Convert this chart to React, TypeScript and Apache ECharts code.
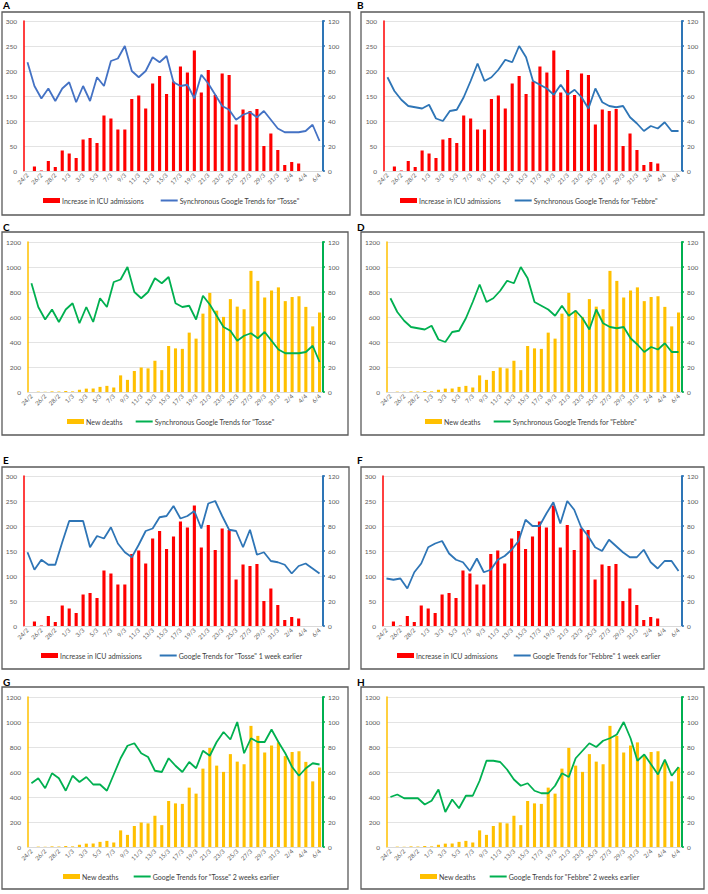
import React, { useEffect, useRef } from 'react';
import * as echarts from 'echarts';

const dates = [
  '24/2', '25/2', '26/2', '27/2', '28/2', '29/2',
  '1/3', '2/3', '3/3', '4/3', '5/3', '6/3', '7/3', '8/3', '9/3', '10/3',
  '11/3', '12/3', '13/3', '14/3', '15/3', '16/3', '17/3', '18/3', '19/3', '20/3',
  '21/3', '22/3', '23/3', '24/3', '25/3', '26/3', '27/3', '28/3', '29/3', '30/3', '31/3',
  '1/4', '2/4', '3/4', '4/4', '5/4', '6/4',
];

const icuIncrease = [
  0, 9, 1, 20, 8, 41, 35, 26, 63, 66, 56, 111, 105, 83, 83, 144, 151, 125, 175, 190, 154,
  179, 209, 197, 241, 157, 202, 152, 195, 192, 93, 123, 120, 124, 50, 75, 42, 12, 18, 15, 0, 0, 0,
];

const newDeaths = [
  0, 3, 2, 5, 4, 8, 5, 18, 27, 28, 41, 49, 36, 133, 97, 168, 196, 189, 250, 175, 368,
  349, 345, 475, 427, 627, 793, 651, 601, 743, 683, 662, 969, 889, 756, 812, 837, 727, 760, 766, 681, 525, 636,
];

const tosseSync = [
  87, 68, 58, 66, 56, 66, 71, 55, 68, 56, 75, 68, 88, 90, 100, 80, 75, 80, 91, 87, 92,
  71, 68, 69, 58, 77, 70, 61, 52, 49, 41, 45, 47, 43, 48, 41, 34, 31, 31, 31, 32, 37, 24,
];

const febbreSync = [
  75, 64, 57, 52, 51, 50, 53, 42, 40, 48, 49, 59, 72, 86, 72, 75, 81, 89, 87, 100, 91,
  72, 69, 66, 61, 69, 61, 65, 59, 50, 66, 55, 52, 51, 52, 43, 38, 32, 36, 34, 39, 32, 32,
];

const tosse1w = [
  59, 45, 53, 49, 49, 67, 84, 84, 84, 63, 72, 70, 79, 66, 59, 55, 65, 76, 78, 87, 88,
  96, 86, 88, 92, 78, 98, 100, 88, 77, 76, 63, 77, 57, 59, 52, 51, 49, 42, 48, 50, 46, 42,
];

const febbre1w = [
  38, 37, 38, 30, 43, 50, 63, 66, 68, 58, 53, 51, 44, 54, 43, 45, 53, 56, 61, 68, 85,
  80, 80, 90, 99, 82, 100, 93, 79, 72, 63, 60, 69, 64, 59, 55, 55, 61, 51, 46, 52, 52, 44,
];

const tosse2w = [
  51, 55, 47, 59, 55, 45, 57, 52, 56, 50, 50, 45, 58, 71, 81, 83, 75, 72, 61, 60, 71,
  65, 60, 68, 63, 77, 73, 84, 92, 86, 100, 75, 87, 84, 84, 94, 84, 75, 64, 57, 63, 67, 66,
];

const febbre2w = [
  40, 42, 39, 39, 39, 34, 37, 46, 28, 38, 31, 41, 41, 53, 69, 69, 68, 62, 54, 49, 51,
  45, 43, 43, 49, 59, 56, 71, 77, 83, 80, 85, 87, 90, 100, 87, 69, 74, 66, 58, 70, 57, 64,
];

const icuTicks = { max: 300, interval: 50 };
const deathTicks = { max: 1200, interval: 200 };
const trendTicks = { max: 120, interval: 20 };

const RED = '#FF0000';
const YELLOW = '#FFC000';
const GREEN = '#00B050';
const BLUE_A = '#4472C4';
const BLUE = '#2E75B6';
const FONT = 'Lato, "Noto Sans", sans-serif';
const TEXT = '#595959';
const LINE_ICON = 'path://M0,0H17V2H0Z';

const ICU_NAME = 'Increase in ICU admissions';
const DEATH_NAME = 'New deaths';

const panels = [
  { id: 'A', lab: [3, 0], frame: [2, 12, 348, 203], grid: [24, 21, 299], bars: icuIncrease, barName: ICU_NAME, barColor: RED, ticks: icuTicks, line: tosseSync, lineName: 'Synchronous Google Trends for "Tosse"', lineColor: BLUE_A, axisColor: BLUE, leg: [43, 197], gap: 17 },
  { id: 'B', lab: [357, 0], frame: [361, 12, 343, 203], grid: [384, 21, 298], bars: icuIncrease, barName: ICU_NAME, barColor: RED, ticks: icuTicks, line: febbreSync, lineName: 'Synchronous Google Trends for "Febbre"', lineColor: BLUE, axisColor: BLUE, leg: [400, 197], gap: 14 },
  { id: 'C', lab: [3, 222], frame: [2, 232, 346, 203], grid: [28, 242, 295], bars: newDeaths, barName: DEATH_NAME, barColor: YELLOW, ticks: deathTicks, line: tosseSync, lineName: 'Synchronous Google Trends for "Tosse"', lineColor: GREEN, axisColor: GREEN, leg: [67, 418], gap: 13 },
  { id: 'D', lab: [357, 222], frame: [361, 232, 343, 203], grid: [387, 242, 295], bars: newDeaths, barName: DEATH_NAME, barColor: YELLOW, ticks: deathTicks, line: febbreSync, lineName: 'Synchronous Google Trends for "Febbre"', lineColor: GREEN, axisColor: GREEN, leg: [425, 418], gap: 13 },
  { id: 'E', lab: [3, 455], frame: [2, 467, 347, 202], grid: [24, 476, 299], bars: icuIncrease, barName: ICU_NAME, barColor: RED, ticks: icuTicks, line: tosse1w, lineName: 'Google Trends for "Tosse" 1 week earlier', lineColor: BLUE, axisColor: BLUE, leg: [41, 652], gap: 18 },
  { id: 'F', lab: [357, 455], frame: [361, 467, 343, 202], grid: [383, 476, 299], bars: icuIncrease, barName: ICU_NAME, barColor: RED, ticks: icuTicks, line: febbre1w, lineName: 'Google Trends for "Febbre" 1 week earlier', lineColor: BLUE, axisColor: BLUE, leg: [397, 652], gap: 16 },
  { id: 'G', lab: [3, 677], frame: [2, 687, 346, 202], grid: [28, 697, 295], bars: newDeaths, barName: DEATH_NAME, barColor: YELLOW, ticks: deathTicks, line: tosse2w, lineName: 'Google Trends for "Tosse" 2 weeks earlier', lineColor: GREEN, axisColor: GREEN, leg: [63, 873], gap: 15 },
  { id: 'H', lab: [357, 677], frame: [361, 687, 343, 202], grid: [387, 697, 295], bars: newDeaths, barName: DEATH_NAME, barColor: YELLOW, ticks: deathTicks, line: febbre2w, lineName: 'Google Trends for "Febbre" 2 weeks earlier', lineColor: GREEN, axisColor: GREEN, leg: [420, 873], gap: 14 },
];

export default function App() {
  const ref = useRef<HTMLDivElement>(null);

  useEffect(() => {
    if (!ref.current) return;
    const chart = echarts.init(ref.current, undefined, { renderer: 'svg' });

    const grid: any[] = [];
    const xAxis: any[] = [];
    const yAxis: any[] = [];
    const series: any[] = [];
    const legend: any[] = [];
    const graphic: any[] = [];
    const plain = (v: number) => String(v);

    panels.forEach((p, i) => {
      grid.push({
        left: p.grid[0], top: p.grid[1], width: p.grid[2], height: 150,
        containLabel: false, outerBoundsMode: 'none',
      });
      xAxis.push({
        type: 'category', gridIndex: i, data: dates, boundaryGap: true,
        axisLine: { show: true, lineStyle: { color: '#D9D9D9', width: 1 } },
        axisTick: { show: false },
        axisLabel: { interval: 1, rotate: 45, fontSize: 6, color: TEXT, fontFamily: FONT, margin: 3 },
        splitLine: { show: false },
      });
      yAxis.push({
        type: 'value', gridIndex: i, min: 0, max: p.ticks.max, interval: p.ticks.interval,
        axisLine: { show: true, lineStyle: { color: p.barColor, width: 1.5 } },
        axisTick: { show: false },
        axisLabel: { fontSize: 6.5, color: TEXT, fontFamily: FONT, margin: 7, formatter: plain },
        splitLine: { show: true, lineStyle: { color: '#E3E3E3', width: 1 } },
      });
      yAxis.push({
        type: 'value', gridIndex: i, position: 'right', min: 0, max: trendTicks.max, interval: trendTicks.interval,
        axisLine: { show: true, lineStyle: { color: p.axisColor, width: 2 } },
        axisTick: { show: true, inside: false, length: 2, lineStyle: { color: p.axisColor, width: 1.5 } },
        axisLabel: { fontSize: 6.5, color: TEXT, fontFamily: FONT, margin: 5, formatter: plain },
        splitLine: { show: false },
      });
      series.push({
        type: 'bar', name: p.barName, xAxisIndex: i, yAxisIndex: 2 * i,
        data: p.bars, barWidth: '45%', itemStyle: { color: p.barColor },
      });
      series.push({
        type: 'line', name: p.lineName, xAxisIndex: i, yAxisIndex: 2 * i + 1,
        data: p.line, symbol: 'none', showSymbol: false,
        lineStyle: { color: p.lineColor, width: 1.8 }, itemStyle: { color: p.lineColor },
      });
      legend.push({
        left: p.leg[0], top: p.leg[1], orient: 'horizontal',
        itemWidth: 17, itemHeight: 5, itemGap: p.gap, padding: 0,
        selectedMode: false,
        textStyle: { fontSize: 7, color: '#404040', fontFamily: FONT, padding: [0, 0, 0, -3] },
        data: [
          { name: p.barName, icon: 'rect', itemStyle: { color: p.barColor } },
          { name: p.lineName, icon: LINE_ICON, itemStyle: { color: p.lineColor } },
        ],
      });
      graphic.push({
        type: 'rect', silent: true, z: -1,
        shape: { x: p.frame[0], y: p.frame[1], width: p.frame[2], height: p.frame[3] },
        style: { fill: 'none', stroke: '#5A5A5A', lineWidth: 1.3 },
      });
      graphic.push({
        type: 'text', silent: true, x: p.lab[0], y: p.lab[1],
        style: { text: p.id, font: `bold 10px ${FONT}`, fill: '#000', textVerticalAlign: 'top' },
      });
    });

    chart.setOption({
      animation: false,
      backgroundColor: '#FFFFFF',
      textStyle: { fontFamily: FONT },
      grid, xAxis, yAxis, series, legend, graphic,
    });

    return () => chart.dispose();
  }, []);

  return (
    <div
      ref={ref}
      style={{ position: 'absolute', left: 0, top: 0, width: 708, height: 894, background: '#fff' }}
    />
  );
}
